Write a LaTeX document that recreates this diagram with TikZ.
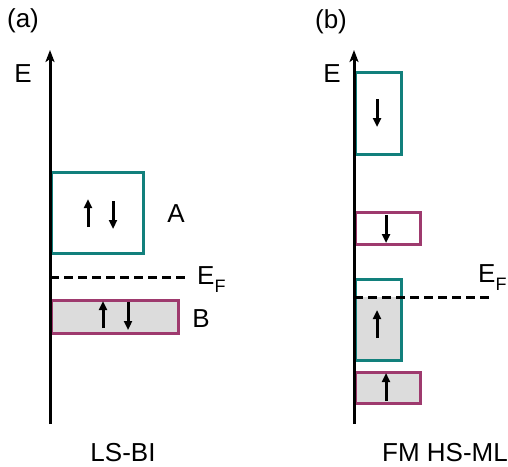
\documentclass[tikz,border=0pt]{standalone}
\usepackage{fontspec}
\setmainfont{Liberation Sans}
\usetikzlibrary{arrows.meta}
\definecolor{tealc}{RGB}{18,128,124}
\definecolor{magc}{RGB}{158,58,110}
\definecolor{grayf}{RGB}{220,220,220}
\begin{document}
\begin{tikzpicture}[x=1pt,y=-1pt,
  lbl/.style={inner sep=0pt,font=\fontsize{26}{28}\selectfont},
  tealbox/.style={draw=tealc,line width=3pt},
  magbox/.style={draw=magc,line width=3pt,fill=grayf},
  axis/.style={line width=3pt,-{Stealth[length=12pt,width=9pt,inset=3pt]}},
  spin/.style={line width=3pt,-{Triangle[length=9pt,width=8pt]}},
  fermi/.style={line width=3pt,dash pattern=on 9pt off 5pt}]
\useasboundingbox (0,0) rectangle (508,466);
\def\EF{E\raisebox{-8pt}{\fontsize{18}{18}\selectfont F}}
% ---------- panel (a)
\node[lbl] (la) at (23,21) {(a)};
\node[lbl] (Ea) at (23,74) {E};
\draw[tealbox] (51,172) rectangle (143,253);
\draw[spin] (88,227) -- (88,199);
\draw[spin] (113,201) -- (113,229);
\node[lbl] (A) at (176,214) {A};
\coordinate (fa1) at (50,277);
\coordinate (fa2) at (187,277);
\draw[fermi] (fa1) -- (fa2);
\node[lbl,anchor=base west] (EFa) at (197,284) {\EF};
\draw[magbox] (51,300) rectangle (178,333);
\draw[spin] (103,328) -- (103,301);
\draw[spin] (128,302) -- (128,330);
\node[lbl] (B) at (201,319) {B};
\coordinate (a0) at (50,424);
\coordinate (a1) at (50,50);
\draw[axis] (a0) -- (a1);
\node[lbl] (tLS) at (123,453) {LS-BI};
% ---------- panel (b)
\node[lbl] (lb) at (331,22) {(b)};
\node[lbl] (Eb) at (332,74) {E};
\draw[tealbox] (355,72) rectangle (401,154);
\draw[spin] (377,99) -- (377,127);
\draw[magbox,fill=white] (355,212) rectangle (420,244);
\draw[spin] (386,215) -- (386,243);
\fill[grayf] (355,297) rectangle (401,360);
\draw[tealbox] (355,279) rectangle (401,360);
\draw[spin] (377,338) -- (377,310);
\coordinate (fb1) at (354,297);
\coordinate (fb2) at (491,297);
\draw[fermi] (fb1) -- (fb2);
\node[lbl,anchor=base west] (EFb) at (478,282) {\EF};
\draw[magbox] (355,372) rectangle (420,403);
\draw[spin] (386,401) -- (386,373);
\coordinate (b0) at (354,424);
\coordinate (b1) at (354,50);
\draw[axis] (b0) -- (b1);
\node[lbl] (tFM) at (445,453) {FM HS-ML};
\end{tikzpicture}
\end{document}
